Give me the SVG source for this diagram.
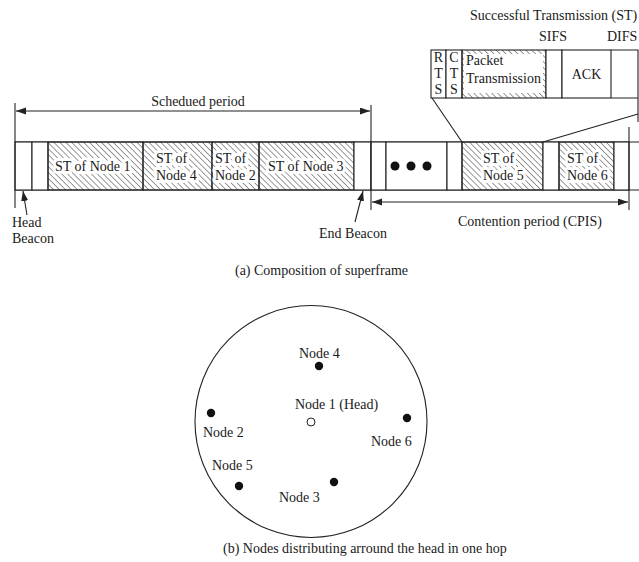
<svg xmlns="http://www.w3.org/2000/svg" width="639" height="562" viewBox="0 0 639 562">
<style>
text{font-family:"Liberation Serif","Times New Roman",serif;font-size:14px;fill:#1a1a1a}
.ln{stroke:#222;stroke-width:1.1;fill:none}
.box{stroke:#222;stroke-width:1.1;fill:#fff}
.hat{stroke:#222;stroke-width:1.1;fill:url(#hatch)}
.ko{stroke:#fff;stroke-width:6;stroke-linejoin:round;paint-order:stroke}
.dot{fill:#111}
</style>
<defs>
<pattern id="hatch" patternUnits="userSpaceOnUse" width="4.2" height="8" patternTransform="rotate(-45)">
<line x1="0" y1="0" x2="0" y2="8" stroke="#333" stroke-width="1"/>
</pattern>
<marker id="ah" markerUnits="userSpaceOnUse" markerWidth="11" markerHeight="8" refX="10" refY="3.5" orient="auto-start-reverse">
<path d="M0,0 L10,3.5 L0,7 Z" fill="#222"/>
</marker>
</defs>

<!-- superframe bar -->
<g id="superframe">
<path class="ln" d="M15,142 H640 M15,190 H640"/>
<g id="head-beacon-slot"><rect class="box" x="15" y="142" width="17" height="48"/><rect class="box" x="32" y="142" width="16" height="48"/></g>
<g id="st-node1"><rect class="hat" x="48" y="142" width="95" height="48"/><text class="ko" x="55" y="171">ST of Node 1</text></g>
<g id="st-node4"><rect class="hat" x="143" y="142" width="69" height="48"/><text class="ko" x="156" y="163">ST of</text><text class="ko" x="156" y="180">Node 4</text></g>
<g id="st-node2"><rect class="hat" x="212" y="142" width="47" height="48"/><text class="ko" x="215" y="163">ST of</text><text class="ko" x="215" y="180">Node 2</text></g>
<g id="st-node3"><rect class="hat" x="259" y="142" width="95" height="48"/><text class="ko" x="268" y="171">ST of Node 3</text></g>
<g id="end-beacon-slot"><rect class="box" x="354" y="142" width="17" height="48"/><rect class="box" x="371" y="142" width="15" height="48"/></g>
<g id="ellipsis"><rect class="box" x="386" y="142" width="61" height="48"/><circle class="dot" cx="395" cy="166" r="4.5"/><circle class="dot" cx="411" cy="166" r="4.5"/><circle class="dot" cx="427" cy="166" r="4.5"/><rect class="box" x="447" y="142" width="15" height="48"/></g>
<g id="st-node5"><rect class="hat" x="462" y="142" width="81" height="48"/><text class="ko" x="483" y="163">ST of</text><text class="ko" x="483" y="180">Node 5</text></g>
<g id="gap56"><rect class="box" x="543" y="142" width="16" height="48"/></g>
<g id="st-node6"><rect class="hat" x="559" y="142" width="55" height="48"/><text class="ko" x="567" y="163">ST of</text><text class="ko" x="567" y="180">Node 6</text></g>
<g id="gap-end"><rect class="box" x="614" y="142" width="15" height="48"/></g>
</g>

<!-- ST detail -->
<g id="st-detail">
<text x="470" y="20">Successful Transmission (ST)</text>
<text x="539" y="41">SIFS</text>
<text x="607" y="41">DIFS</text>
<g id="rts"><rect class="box" x="431" y="50" width="15" height="48"/><text x="438.5" y="62" text-anchor="middle">R</text><text x="438.5" y="78" text-anchor="middle">T</text><text x="438.5" y="94" text-anchor="middle">S</text></g>
<g id="cts"><rect class="box" x="446" y="50" width="16" height="48"/><text x="454" y="62" text-anchor="middle">C</text><text x="454" y="78" text-anchor="middle">T</text><text x="454" y="94" text-anchor="middle">S</text></g>
<g id="packet"><rect class="hat" x="462" y="50" width="84" height="48"/><rect x="464" y="54" width="79" height="39" fill="#fff"/><text x="466" y="65">Packet</text><text x="466" y="83">Transmission</text></g>
<g id="sifs"><rect class="box" x="546" y="50" width="16" height="48"/></g>
<g id="ack"><rect class="box" x="562" y="50" width="49" height="48"/><text x="586.5" y="79" text-anchor="middle">ACK</text></g>
<g id="difs"><path class="ln" d="M611,50 H638 V122 M611,98 H638"/></g>
</g>

<!-- connectors -->
<g id="connectors">
<path class="ln" d="M15,103 V208"/>
<path class="ln" d="M371,105 V210"/>
<path class="ln" d="M629,127 V210"/>
<line class="ln" x1="16" y1="111" x2="370" y2="111" marker-start="url(#ah)" marker-end="url(#ah)"/>
<line class="ln" x1="372" y1="202" x2="628" y2="202" marker-start="url(#ah)" marker-end="url(#ah)"/>
<line class="ln" x1="27" y1="215" x2="23" y2="191" marker-end="url(#ah)"/>
<line class="ln" x1="355" y1="222" x2="363" y2="191" marker-end="url(#ah)"/>
<line class="ln" x1="432" y1="98" x2="462" y2="142"/>
<line class="ln" x1="638" y1="114" x2="543" y2="142"/>
</g>

<g id="labels">
<text x="198" y="106" text-anchor="middle">Schedued period</text>
<text x="12" y="227">Head</text>
<text x="12" y="243">Beacon</text>
<text x="319" y="238">End Beacon</text>
<text x="458" y="226">Contention period (CPIS)</text>
<text x="321.5" y="275" text-anchor="middle">(a) Composition of superframe</text>
<text x="223" y="553">(b) Nodes distributing arround the head in one hop</text>
</g>

<!-- hop circle -->
<g id="hop-range"><circle class="ln" cx="311" cy="421.5" r="116"/></g>
<g id="node1"><circle cx="311" cy="422" r="4" fill="#fff" stroke="#222" stroke-width="1"/><text x="295" y="409">Node 1 (Head)</text></g>
<g id="node2"><circle class="dot" cx="211" cy="413" r="4.2"/><text x="203" y="437">Node 2</text></g>
<g id="node3"><circle class="dot" cx="334" cy="482" r="4.2"/><text x="279" y="502">Node 3</text></g>
<g id="node4"><circle class="dot" cx="319" cy="366" r="4.2"/><text x="299" y="358">Node 4</text></g>
<g id="node5"><circle class="dot" cx="239" cy="486" r="4.2"/><text x="212" y="470">Node 5</text></g>
<g id="node6"><circle class="dot" cx="407" cy="418" r="4.2"/><text x="371" y="446">Node 6</text></g>
</svg>
